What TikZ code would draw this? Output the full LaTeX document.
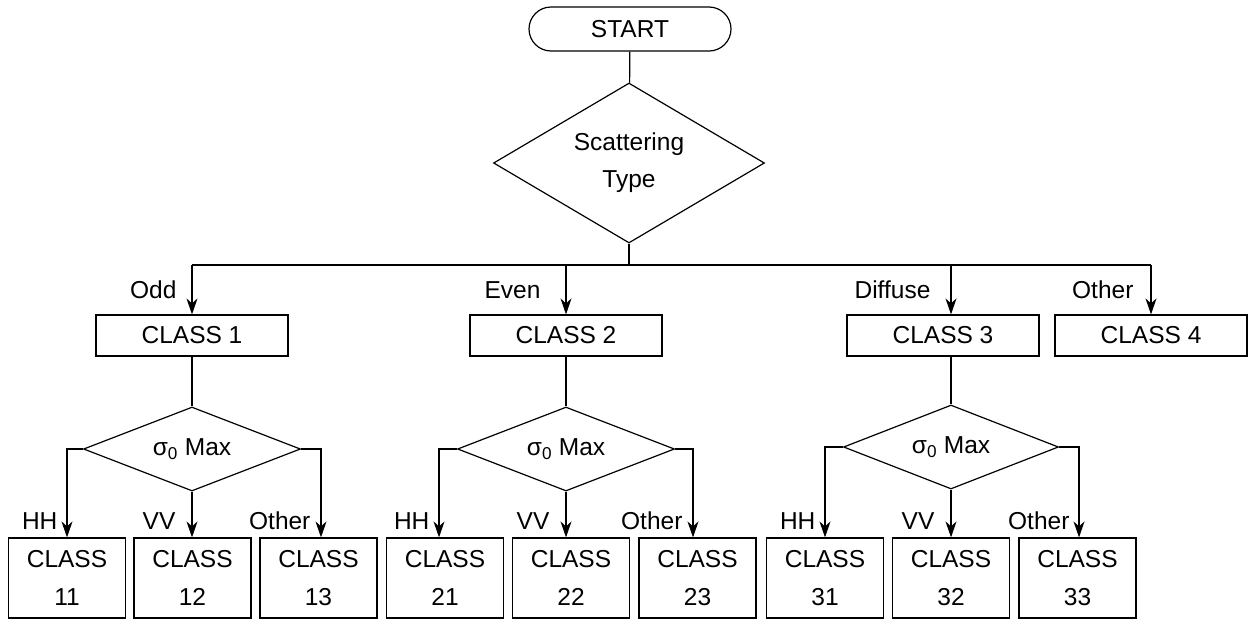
\documentclass[tikz,border=0pt]{standalone}
\usepackage{fontspec}
\setmainfont{Liberation Sans}
\usetikzlibrary{shapes.geometric,arrows.meta}
\tikzset{
  base/.style={font=\fontsize{24.5}{38}\selectfont, line width=1.2pt},
  box/.style={draw, rectangle, inner sep=0pt, line width=1.2pt, align=center},
  topbox/.style={box, minimum width=192pt, minimum height=41pt},
  leaf/.style={box, minimum width=117pt, minimum height=80pt, font=\fontsize{24.5}{38}\selectfont},
  dec/.style={draw, diamond, inner sep=0pt, line width=1.2pt, align=center},
  lab/.style={inner sep=0pt, anchor=base east},
  arr/.style={-{Stealth[length=16pt,width=11pt,inset=5pt]}, line width=1.2pt},
  ln/.style={line width=1.2pt}
}
\begin{document}
\begin{tikzpicture}[x=1pt,y=-1pt,base]
\useasboundingbox (0,0) rectangle (1249,619);
% top
\node[draw, rectangle, rounded corners=22pt, minimum width=202pt, minimum height=44pt, inner sep=0pt, line width=1.2pt] (start) at (630,29) {START};
\node[dec, aspect=1.69, minimum width=271pt, minimum height=160pt, font=\fontsize{24.5}{37}\selectfont] (st) at (629,163) {Scattering\\Type};
\draw[ln] (start) -- (st);
\coordinate (j) at (629,265);
\coordinate (b1) at (192,265);
\coordinate (b2) at (566,265);
\coordinate (b3) at (951,265);
\coordinate (b4) at (1151,265);
\draw[ln] (st.south) -- (j);
\draw[ln] (b1) -- (b4);
% level 1 boxes
\node[topbox] (c1) at (192,335.5) {CLASS 1};
\node[topbox] (c2) at (566,335.5) {CLASS 2};
\node[topbox] (c3) at (943,335.5) {CLASS 3};
\node[topbox] (c4) at (1151,335.5) {CLASS 4};
\draw[arr] (b1) -- (b1 |- c1.north);
\draw[arr] (b2) -- (b2 |- c2.north);
\draw[arr] (b3) -- (b3 |- c3.north);
\draw[arr] (b4) -- (b4 |- c4.north);
\node[lab] (lodd) at (177,298) {Odd};
\node[lab] (leven) at (541,298) {Even};
\node[lab] (ldif) at (931,298) {Diffuse};
\node[lab] (loth) at (1134,298) {Other};
% level 2 diamonds
\node[dec, aspect=2.58, minimum width=217pt, minimum height=84pt] (d1) at (192,449) {σ\textsubscript{0} Max};
\node[dec, aspect=2.58, minimum width=217pt, minimum height=84pt] (d2) at (566,449) {σ\textsubscript{0} Max};
\node[dec, aspect=2.58, minimum width=215pt, minimum height=84pt] (d3) at (951,447) {σ\textsubscript{0} Max};
\draw[ln] (c1.south) -- (d1.north);
\draw[ln] (c2.south) -- (d2.north);
\draw[ln] (b3 |- c3.south) -- (d3.north);
% leaves
\node[leaf] (l11) at (67,578) {CLASS\\11};
\node[leaf] (l12) at (192.5,578) {CLASS\\12};
\node[leaf] (l13) at (318.5,578) {CLASS\\13};
\node[leaf] (l21) at (445,578) {CLASS\\21};
\node[leaf] (l22) at (571,578) {CLASS\\22};
\node[leaf] (l23) at (697.5,578) {CLASS\\23};
\node[leaf] (l31) at (825,578) {CLASS\\31};
\node[leaf] (l32) at (951,578) {CLASS\\32};
\node[leaf] (l33) at (1077.5,578) {CLASS\\33};
% branch corners
\coordinate (e11) at (67,449);
\coordinate (e13) at (321,449);
\coordinate (e21) at (439,449);
\coordinate (e23) at (693,449);
\coordinate (e31) at (825,447);
\coordinate (e33) at (1079,447);
\draw[arr] (d1.west) -- (e11) -- (e11 |- l11.north);
\draw[arr] (d1.south) -- (d1.south |- l12.north);
\draw[arr] (d1.east) -- (e13) -- (e13 |- l13.north);
\draw[arr] (d2.west) -- (e21) -- (e21 |- l21.north);
\draw[arr] (d2.south) -- (d2.south |- l22.north);
\draw[arr] (d2.east) -- (e23) -- (e23 |- l23.north);
\draw[arr] (d3.west) -- (e31) -- (e31 |- l31.north);
\draw[arr] (d3.south) -- (d3.south |- l32.north);
\draw[arr] (d3.east) -- (e33) -- (e33 |- l33.north);
% leaf labels
\node[lab] (h1) at (58,529) {HH};
\node[lab] (v1) at (176,529) {VV};
\node[lab] (o1) at (311,529) {Other};
\node[lab] (h2) at (430,529) {HH};
\node[lab] (v2) at (550,529) {VV};
\node[lab] (o2) at (683,529) {Other};
\node[lab] (h3) at (816,529) {HH};
\node[lab] (v3) at (935,529) {VV};
\node[lab] (o3) at (1070,529) {Other};
\end{tikzpicture}
\end{document}
